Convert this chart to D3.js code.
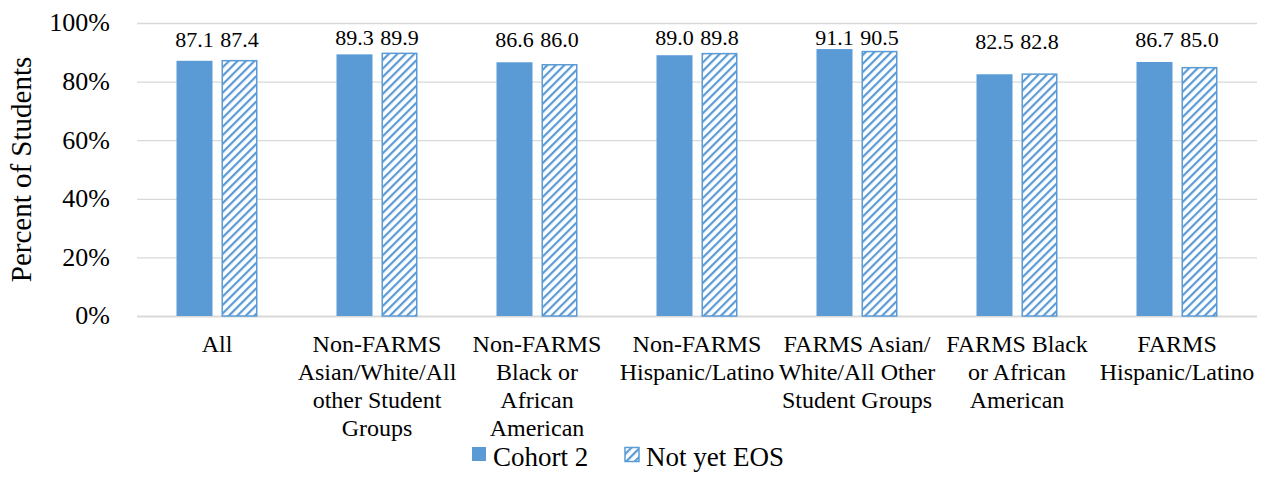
<!DOCTYPE html>
<html>
<head>
<meta charset="utf-8">
<script src="https://d3js.org/d3.v7.min.js"></script>
</head>
<body style="margin:0">
<svg id="viz" width="1267" height="498"></svg>
<script>
var categories = [
  ["All"],
  ["Non-FARMS", "Asian/White/All", "other Student", "Groups"],
  ["Non-FARMS", "Black or", "African", "American"],
  ["Non-FARMS", "Hispanic/Latino"],
  ["FARMS Asian/", "White/All Other", "Student Groups"],
  ["FARMS Black", "or African", "American"],
  ["FARMS", "Hispanic/Latino"]
];
var seriesNames = ["Cohort 2", "Not yet EOS"];
var cohort2 = [87.1, 89.3, 86.6, 89.0, 91.1, 82.5, 86.7];
var notYetEOS = [87.4, 89.9, 86.0, 89.8, 90.5, 82.8, 85.0];
var yTicks = [0, 20, 40, 60, 80, 100];

var width = 1267, height = 498;
var blue = "#5b9bd5";
var margin = {top: 23, left: 137, right: 10, bottom: 182};

var svg = d3.select("#viz");

var defs = svg.append("defs");
var pat = defs.append("pattern")
  .attr("id", "hatch")
  .attr("patternUnits", "userSpaceOnUse")
  .attr("width", 6).attr("height", 6)
  .attr("patternTransform", "rotate(45)");
pat.append("rect").attr("width", 6).attr("height", 6).attr("fill", "#fff");
pat.append("rect").attr("width", 2.2).attr("height", 6).attr("fill", blue);

var x = d3.scaleBand()
  .domain(d3.range(categories.length))
  .range([margin.left, width - margin.right]);

var y = d3.scaleLinear()
  .domain([0, 100])
  .range([height - margin.bottom, margin.top]);

var barW = 36, gap = 9;
var xs = d3.scaleBand().domain([0, 1])
  .range([0, barW * 2 + gap]).paddingInner(gap / (barW + gap));

// gridlines
svg.append("g").selectAll("line")
  .data(yTicks)
  .enter().append("line")
  .attr("x1", margin.left).attr("x2", width - margin.right)
  .attr("y1", function(d){ return y(d) + 0.5; })
  .attr("y2", function(d){ return y(d) + 0.5; })
  .attr("stroke", "#d9d9d9").attr("stroke-width", function(d){ return d === 0 ? 2 : 1.3; });

// bars
var series = [cohort2, notYetEOS];
var barData = [];
categories.forEach(function(c, i){
  var top = y(Math.max(cohort2[i], notYetEOS[i]));
  series.forEach(function(vals, s){
    barData.push({i: i, s: s, v: vals[i], top: top,
      x0: x(i) + x.bandwidth() / 2 - (barW * 2 + gap) / 2 + xs(s)});
  });
});

svg.append("g").selectAll("rect")
  .data(barData)
  .enter().append("rect")
  .attr("x", function(d){ return d.x0 + (d.s ? 0.75 : 0); })
  .attr("y", function(d){ return y(d.v) + (d.s ? 0.75 : 0); })
  .attr("width", function(d){ return xs.bandwidth() - (d.s ? 1.5 : 0); })
  .attr("height", function(d){ return y(0) - y(d.v) - (d.s ? 0.75 : 0); })
  .attr("fill", function(d){ return d.s ? "url(#hatch)" : blue; })
  .attr("stroke", function(d){ return d.s ? blue : "none"; })
  .attr("stroke-width", 1.5);

// all texts in one list, drawn with one join
var texts = [];
yTicks.forEach(function(d){
  texts.push({t: d + "%", x: 110, y: y(d) + 8.5, size: 26, anchor: "end"});
});
barData.forEach(function(d){
  texts.push({t: d.v.toFixed(1), x: d.x0 + xs.bandwidth() / 2, y: 37 + 0.16 * d.top, size: 22, anchor: "middle"});
});
categories.forEach(function(lines, i){
  lines.forEach(function(line, k){
    texts.push({t: line, x: x(i) + x.bandwidth() / 2, y: 352 + k * 28, size: 24, anchor: "middle"});
  });
});
texts.push({t: seriesNames[0], x: 493, y: 466, size: 27, anchor: "start"});
texts.push({t: seriesNames[1], x: 646, y: 466, size: 27, anchor: "start"});

svg.selectAll("text.lbl")
  .data(texts)
  .enter().append("text")
  .attr("class", "lbl")
  .attr("transform", function(d){ return "translate(" + d.x + "," + d.y + ") rotate(0.01)"; })
  .attr("text-anchor", function(d){ return d.anchor; })
  .style("font-family", "Liberation Serif")
  .style("font-size", function(d){ return d.size + "px"; })
  .text(function(d){ return d.t; });

svg.append("text")
  .attr("transform", "translate(31," + y(50) + ") rotate(-90)")
  .attr("text-anchor", "middle")
  .style("font-family", "Liberation Serif")
  .style("font-size", "29px")
  .text("Percent of Students");

// legend swatches
svg.append("rect").attr("x", 472).attr("y", 447).attr("width", 14).attr("height", 14).attr("fill", blue);
svg.append("rect").attr("x", 625).attr("y", 447.5).attr("width", 14).attr("height", 14)
  .attr("fill", "url(#hatch)").attr("stroke", blue).attr("stroke-width", 1.5);
</script>
</body>
</html>
